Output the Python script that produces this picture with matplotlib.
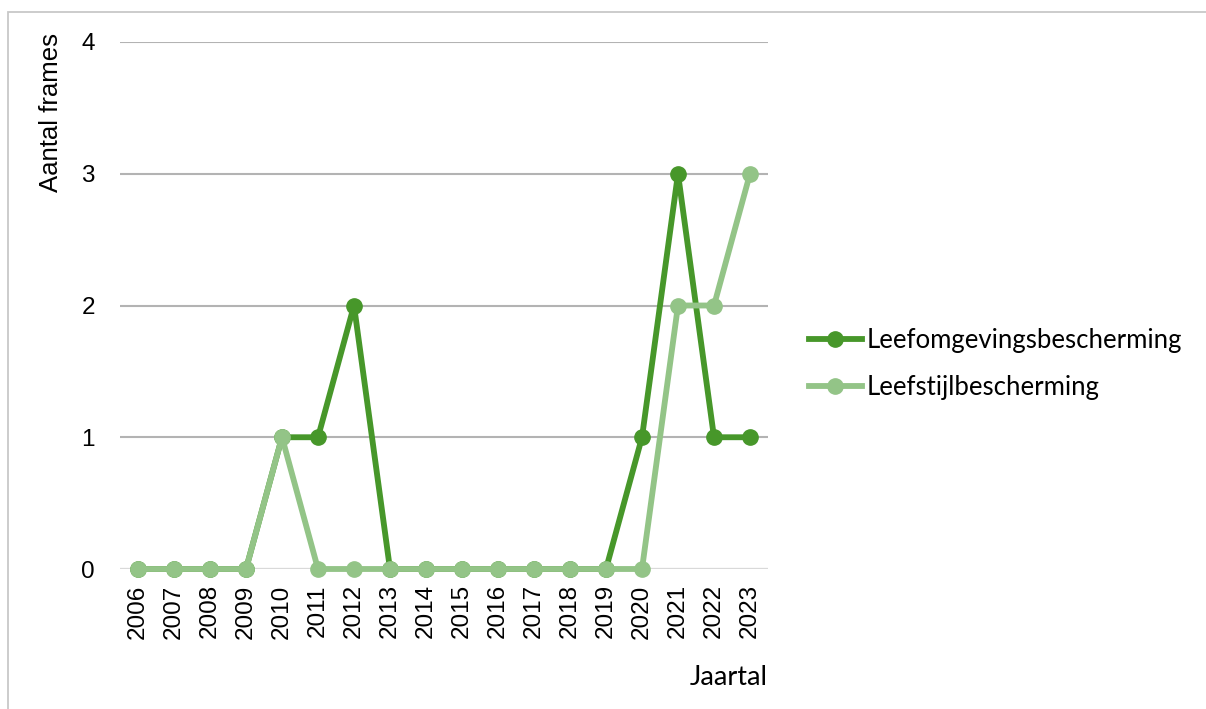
import matplotlib.pyplot as plt
from matplotlib.patches import Rectangle

jaren = [str(j) for j in range(2006, 2024)]
leefomgeving = [0, 0, 0, 0, 1, 1, 2, 0, 0, 0, 0, 0, 0, 0, 1, 3, 1, 1]
leefstijl = [0, 0, 0, 0, 1, 0, 0, 0, 0, 0, 0, 0, 0, 0, 0, 2, 2, 3]

donker = "#47972a"
licht = "#93c487"

fig = plt.figure(figsize=(12.06, 7.09), dpi=100)
ax = fig.add_axes([120 / 1206, 1 - 569 / 709, 648 / 1206, 527 / 709])

x = list(range(len(jaren)))
ax.plot(x, leefomgeving, color=donker, lw=4.2, marker="o", ms=11,
        label="Leefomgevingsbescherming", zorder=3, clip_on=False)
ax.plot(x, leefstijl, color=licht, lw=4.2, marker="o", ms=11,
        label="Leefstijlbescherming", zorder=4, clip_on=False)

ax.set_xlim(-0.5, len(jaren) - 0.5)
ax.set_ylim(0, 4)
ax.set_yticks([0, 1, 2, 3, 4])
ax.set_xticks(x)
ax.set_xticklabels(jaren, rotation=90, fontsize=17.5, family="Liberation Sans")
for lab in ax.get_yticklabels():
    lab.set_fontsize(17.5)
    lab.set_family("Liberation Sans")
ax.tick_params(length=0)
ax.tick_params(axis="x", pad=11)
ax.tick_params(axis="y", pad=18)
ax.grid(axis="y", color="#b3b3b3", lw=1.5)
for s in ax.spines.values():
    s.set_visible(False)
ax.axhline(0, color="#d9d9d9", lw=1.5, zorder=2)

ax.text(-0.107, 1.017, "Aantal frames", transform=ax.transAxes, rotation=90,
        ha="center", va="top", fontsize=18.5, family="Liberation Sans")
ax.text(1.0, -0.205, "Jaartal", transform=ax.transAxes, ha="right",
        va="center", fontsize=19.5, family="Lato")

fig.legend(loc="center left", bbox_to_anchor=(786 / 1206, 1 - 364 / 709),
           frameon=False, prop={"family": "Lato", "size": 18.5},
           handlelength=2.05, handletextpad=0.2, labelspacing=0.85,
           markerscale=1.0)

fig.patches.append(Rectangle((8 / 1206, -0.1), 1.2, 1 - 12 / 709 + 0.1,
                             transform=fig.transFigure, fill=False,
                             edgecolor="#c8c8c8", lw=1.3))

fig.savefig("out.png", dpi=100)
